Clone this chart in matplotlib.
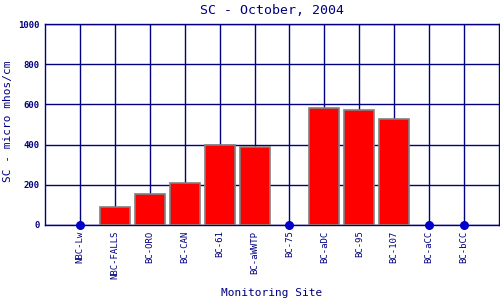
import matplotlib
matplotlib.use("Agg")
import matplotlib.pyplot as plt
import numpy as np

sites = ["NBC-Lw", "NBC-FALLS", "BC-ORO", "BC-CAN", "BC-61", "BC-aWWTP",
         "BC-75", "BC-aDC", "BC-95", "BC-107", "BC-aCC", "BC-bCC"]
values = [np.nan, 92, 153, 207, 396, 388, np.nan, 580, 570, 527, np.nan, np.nan]
yticks = [0, 200, 400, 600, 800, 1000]

navy = "#000080"
font = "DejaVu Sans Mono"

fig = plt.figure(figsize=(5, 3), dpi=100)
ax = fig.add_axes([45/500, 1-225/300, 454/500, 201/300])
x = np.arange(len(sites))
vals = np.array(values, dtype=float)
has = ~np.isnan(vals)
ax.bar(x[has], vals[has], width=0.86, color="#ff0000", edgecolor="#808080",
       linewidth=1.2, zorder=3)
ax.scatter(x[~has], np.zeros((~has).sum()), s=30, color="#0000cc", zorder=4,
           clip_on=False)
ax.set_xlim(-1, len(sites))
ax.set_ylim(0, 1000)
ax.set_xticks(x)
ax.set_xticklabels(sites, rotation=90, fontsize=6.5, family=font, color=navy)
ax.set_yticks(yticks)
ax.set_yticklabels([str(v) for v in yticks], fontsize=6.5, family=font,
                   color=navy, fontweight="bold")
ax.grid(True, color=navy, linewidth=1, zorder=1)
ax.set_axisbelow(True)
for s in ax.spines.values():
    s.set_color(navy)
    s.set_linewidth(1)
ax.tick_params(length=0, pad=4)
ax.set_title("SC - October, 2004", family=font, fontsize=9.5, color=navy, pad=7)
fig.text(272/500, 1-293/300, "Monitoring Site", family=font, fontsize=8,
         color=navy, ha="center", va="center")
fig.text(8/500, 1-121/300, "SC - micro mhos/cm", family=font, fontsize=8,
         color=navy, ha="center", va="center", rotation=90)
fig.savefig("out.png", dpi=100)
